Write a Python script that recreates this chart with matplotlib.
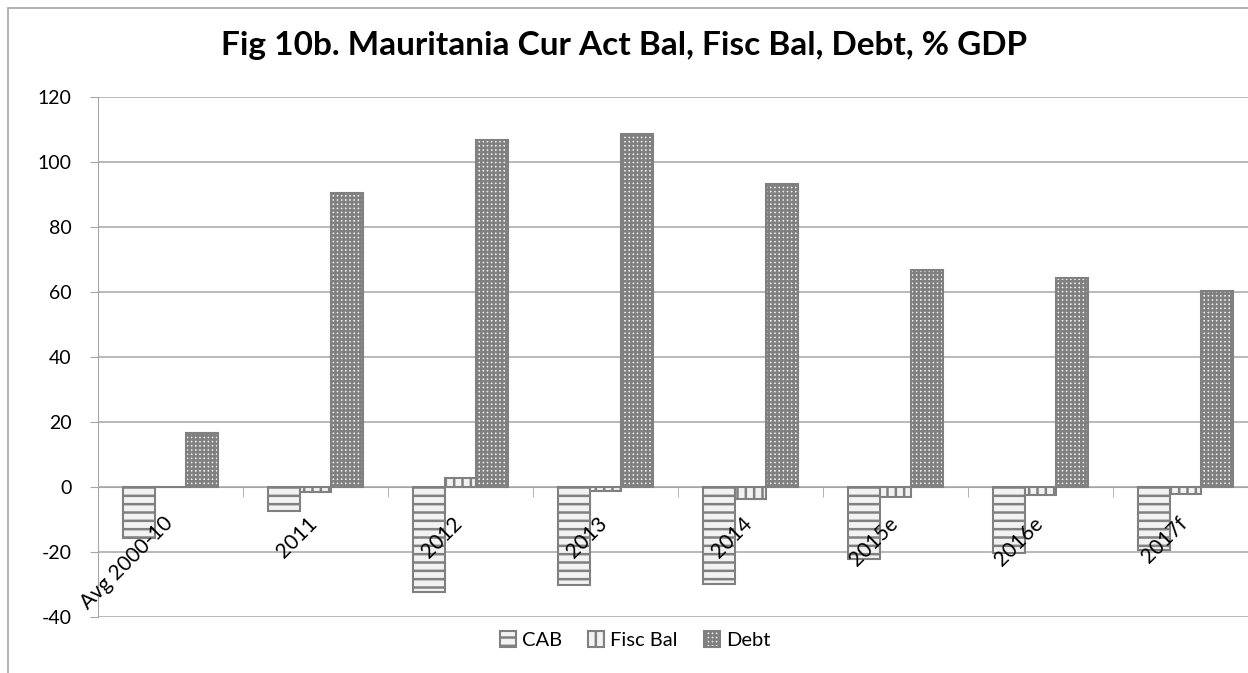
# coding:utf-8
'''
   function: Mauritania current account, fiscal balance and debt (% GDP), grouped bars
'''
import matplotlib
matplotlib.use('Agg')
import matplotlib.pyplot as plt
import matplotlib.transforms as mtrans
from matplotlib.patches import Rectangle
import numpy as np

plt.rcParams['font.family'] = ['Lato', 'DejaVu Sans']
plt.rcParams['axes.unicode_minus'] = False
plt.rcParams['hatch.color'] = '#808080'
plt.rcParams['hatch.linewidth'] = 1.8

# data
categories = ['Avg 2000-10', '2011', '2012', '2013', '2014', '2015e', '2016e', '2017f']
cab = [-15.6, -7.4, -32.4, -30.2, -29.9, -22.3, -20.4, -19.4]
fisc_bal = [0.0, -1.4, 2.9, -1.1, -3.7, -3.0, -2.5, -2.3]
debt = [16.7, 90.6, 106.8, 108.7, 93.1, 66.8, 64.3, 60.4]
series_names = ['CAB', 'Fisc Bal', 'Debt']
yticks = [-40, -20, 0, 20, 40, 60, 80, 100, 120]


def draw_chart():
    fig = plt.figure(figsize=(12.48, 6.73), dpi=100)
    # chart area border (cropped on right and bottom in the original)
    fig.patches.append(Rectangle((8 / 1248, -0.1), 1.2, 1.1 - 8 / 673, transform=fig.transFigure,
                                 fill=False, edgecolor='#a6a6a6', linewidth=1.2))

    ax = fig.add_axes([98 / 1248, 1 - 617 / 673, 1160 / 1248, 520 / 673])
    x = np.arange(len(categories))
    w = 0.22
    style = dict(color='#f2f2f2', edgecolor='#808080', linewidth=1.5, zorder=3)
    ax.bar(x - w, cab, w, hatch='--', label=series_names[0], **style)
    ax.bar(x, fisc_bal, w, hatch='||', label=series_names[1], **style)
    ax.bar(x + w, debt, w, hatch='++++', label=series_names[2], **style)

    ax.set_xlim(-0.5, len(categories) - 0.5)
    ax.set_ylim(-40, 120)
    ax.set_yticks(yticks)
    ax.yaxis.grid(True, color='#a6a6a6', linewidth=1.1)
    ax.set_axisbelow(True)
    # category labels sit on top of the bars
    ax.xaxis.set_zorder(5)

    for s in ['top', 'right']:
        ax.spines[s].set_visible(False)
    ax.spines['bottom'].set_position(('data', 0))
    ax.spines['bottom'].set_color('#a6a6a6')
    ax.spines['left'].set_color('#a6a6a6')
    ax.spines['bottom'].set_zorder(2)

    ax.tick_params(axis='y', length=6, color='#a6a6a6', labelsize=14, pad=13)
    ax.set_xticks(x)
    ax.set_xticklabels(categories, rotation=45, ha='right', va='top', fontsize=15)
    ax.set_xticks(np.arange(len(categories) + 1) - 0.5, minor=True)
    ax.tick_params(axis='x', which='major', length=0, pad=19)
    ax.tick_params(axis='x', which='minor', length=7, color='#a6a6a6', direction='out')
    shift = mtrans.ScaledTranslation(6 / 100, 0, fig.dpi_scale_trans)
    for lbl in ax.get_xticklabels():
        lbl.set_transform(lbl.get_transform() + shift)

    fig.text(0.5, 1 - 45 / 673, 'Fig 10b. Mauritania Cur Act Bal, Fisc Bal, Debt, % GDP',
             ha='center', va='center', fontsize=24, fontweight='bold')

    fig.legend(loc='center', bbox_to_anchor=(0.509, 1 - 640 / 673), ncol=3, frameon=False,
               fontsize=14.5, handlelength=0.8, handleheight=0.8, handletextpad=0.3,
               columnspacing=1.3)

    fig.savefig('out.png', dpi=100)


if __name__ == '__main__':
    draw_chart()
